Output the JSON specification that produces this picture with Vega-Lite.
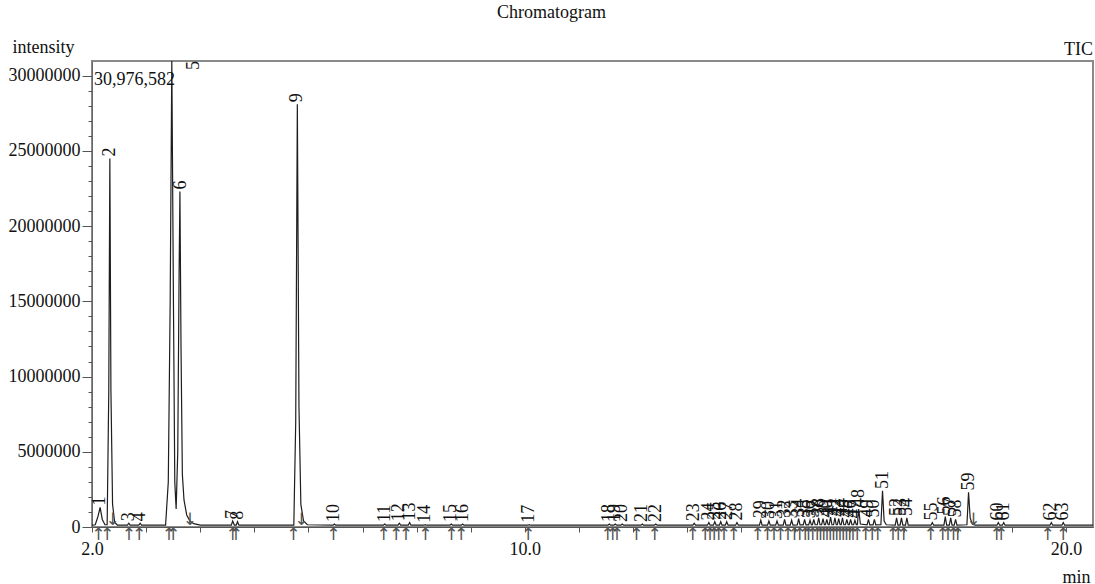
{
  "$schema": "https://vega.github.io/schema/vega-lite/v6.json",
  "width": 1001,
  "height": 466,
  "autosize": {"type": "none"},
  "padding": {"left": 92, "top": 61, "right": 2, "bottom": 57},
  "background": "white",
  "config": {
    "view": {"stroke": "#8a8a8a", "strokeWidth": 2},
    "text": {"font": "Liberation Serif", "fontSize": 18, "color": "#111"}
  },
  "title": {
    "text": "Chromatogram",
    "font": "Liberation Serif",
    "fontSize": 18,
    "fontWeight": "normal",
    "color": "#111",
    "frame": "group",
    "anchor": "middle",
    "dx": -41,
    "baseline": "alphabetic",
    "offset": 2
  },
  "datasets": {
    "trace": [
      {"t": 2.00, "i": 120000},
      {"t": 2.06, "i": 150000}, {"t": 2.11, "i": 700000}, {"t": 2.15, "i": 1300000}, {"t": 2.19, "i": 500000}, {"t": 2.24, "i": 150000},
      {"t": 2.28, "i": 150000}, {"t": 2.31, "i": 9000000}, {"t": 2.33, "i": 24500000}, {"t": 2.35, "i": 9000000}, {"t": 2.38, "i": 1500000}, {"t": 2.42, "i": 300000}, {"t": 2.47, "i": 130000},
      {"t": 2.655, "i": 120000}, {"t": 2.68, "i": 250000}, {"t": 2.705, "i": 120000},
      {"t": 2.865, "i": 120000}, {"t": 2.89, "i": 250000}, {"t": 2.915, "i": 120000},
      {"t": 3.36, "i": 130000}, {"t": 3.41, "i": 3000000}, {"t": 3.445, "i": 15000000}, {"t": 3.475, "i": 30976582}, {"t": 3.505, "i": 15000000}, {"t": 3.53, "i": 3000000}, {"t": 3.555, "i": 1200000}, {"t": 3.585, "i": 5000000}, {"t": 3.61, "i": 17000000}, {"t": 3.625, "i": 22300000}, {"t": 3.645, "i": 12000000}, {"t": 3.67, "i": 3500000}, {"t": 3.70, "i": 1800000}, {"t": 3.75, "i": 800000}, {"t": 3.81, "i": 400000}, {"t": 3.88, "i": 220000}, {"t": 4.00, "i": 130000},
      {"t": 4.575, "i": 120000}, {"t": 4.60, "i": 400000}, {"t": 4.63, "i": 130000},
      {"t": 4.665, "i": 130000}, {"t": 4.69, "i": 350000}, {"t": 4.715, "i": 120000},
      {"t": 5.73, "i": 130000}, {"t": 5.765, "i": 7000000}, {"t": 5.795, "i": 28100000}, {"t": 5.825, "i": 8000000}, {"t": 5.86, "i": 1500000}, {"t": 5.91, "i": 400000}, {"t": 5.98, "i": 150000},
      {"t": 6.455, "i": 120000}, {"t": 6.48, "i": 200000}, {"t": 6.505, "i": 120000},
      {"t": 7.385, "i": 120000}, {"t": 7.41, "i": 200000}, {"t": 7.435, "i": 120000},
      {"t": 7.655, "i": 120000}, {"t": 7.68, "i": 250000}, {"t": 7.705, "i": 120000},
      {"t": 7.845, "i": 120000}, {"t": 7.87, "i": 300000}, {"t": 7.895, "i": 120000},
      {"t": 8.135, "i": 120000}, {"t": 8.16, "i": 150000}, {"t": 8.185, "i": 120000},
      {"t": 8.615, "i": 120000}, {"t": 8.64, "i": 200000}, {"t": 8.665, "i": 120000},
      {"t": 8.825, "i": 120000}, {"t": 8.85, "i": 200000}, {"t": 8.875, "i": 120000},
      {"t": 10.055, "i": 120000}, {"t": 10.08, "i": 150000}, {"t": 10.105, "i": 120000},
      {"t": 11.535, "i": 120000}, {"t": 11.56, "i": 200000}, {"t": 11.585, "i": 120000},
      {"t": 11.645, "i": 120000}, {"t": 11.67, "i": 200000}, {"t": 11.695, "i": 120000},
      {"t": 11.775, "i": 120000}, {"t": 11.80, "i": 200000}, {"t": 11.825, "i": 120000},
      {"t": 12.145, "i": 120000}, {"t": 12.17, "i": 200000}, {"t": 12.195, "i": 120000},
      {"t": 12.395, "i": 120000}, {"t": 12.42, "i": 200000}, {"t": 12.445, "i": 120000},
      {"t": 13.105, "i": 120000}, {"t": 13.13, "i": 250000}, {"t": 13.155, "i": 120000},
      {"t": 13.375, "i": 120000}, {"t": 13.40, "i": 300000}, {"t": 13.425, "i": 120000},
      {"t": 13.485, "i": 120000}, {"t": 13.51, "i": 350000}, {"t": 13.535, "i": 120000},
      {"t": 13.595, "i": 120000}, {"t": 13.62, "i": 350000}, {"t": 13.645, "i": 120000},
      {"t": 13.705, "i": 120000}, {"t": 13.73, "i": 350000}, {"t": 13.755, "i": 120000},
      {"t": 13.895, "i": 120000}, {"t": 13.92, "i": 300000}, {"t": 13.945, "i": 120000},
      {"t": 14.335, "i": 120000}, {"t": 14.36, "i": 450000}, {"t": 14.385, "i": 120000},
      {"t": 14.485, "i": 120000}, {"t": 14.51, "i": 400000}, {"t": 14.535, "i": 120000},
      {"t": 14.635, "i": 120000}, {"t": 14.66, "i": 400000}, {"t": 14.685, "i": 120000},
      {"t": 14.775, "i": 130000}, {"t": 14.80, "i": 500000}, {"t": 14.825, "i": 130000},
      {"t": 14.905, "i": 130000}, {"t": 14.93, "i": 450000}, {"t": 14.955, "i": 130000},
      {"t": 15.035, "i": 140000}, {"t": 15.06, "i": 550000}, {"t": 15.085, "i": 140000},
      {"t": 15.145, "i": 140000}, {"t": 15.17, "i": 500000}, {"t": 15.195, "i": 140000},
      {"t": 15.245, "i": 140000}, {"t": 15.27, "i": 450000}, {"t": 15.295, "i": 140000},
      {"t": 15.315, "i": 150000}, {"t": 15.34, "i": 500000}, {"t": 15.365, "i": 150000},
      {"t": 15.405, "i": 150000}, {"t": 15.43, "i": 600000}, {"t": 15.455, "i": 150000},
      {"t": 15.485, "i": 150000}, {"t": 15.51, "i": 550000}, {"t": 15.535, "i": 150000},
      {"t": 15.555, "i": 150000}, {"t": 15.58, "i": 500000}, {"t": 15.605, "i": 150000},
      {"t": 15.625, "i": 150000}, {"t": 15.65, "i": 650000}, {"t": 15.675, "i": 150000},
      {"t": 15.705, "i": 150000}, {"t": 15.73, "i": 600000}, {"t": 15.755, "i": 150000},
      {"t": 15.775, "i": 150000}, {"t": 15.80, "i": 550000}, {"t": 15.825, "i": 150000},
      {"t": 15.845, "i": 150000}, {"t": 15.87, "i": 600000}, {"t": 15.895, "i": 150000},
      {"t": 15.925, "i": 150000}, {"t": 15.95, "i": 500000}, {"t": 15.975, "i": 150000},
      {"t": 15.995, "i": 150000}, {"t": 16.02, "i": 500000}, {"t": 16.045, "i": 150000},
      {"t": 16.075, "i": 150000}, {"t": 16.10, "i": 450000}, {"t": 16.125, "i": 150000},
      {"t": 16.145, "i": 150000}, {"t": 16.17, "i": 1200000}, {"t": 16.20, "i": 200000},
      {"t": 16.325, "i": 140000}, {"t": 16.35, "i": 500000}, {"t": 16.375, "i": 140000},
      {"t": 16.435, "i": 140000}, {"t": 16.46, "i": 500000}, {"t": 16.485, "i": 140000},
      {"t": 16.58, "i": 150000}, {"t": 16.61, "i": 2400000}, {"t": 16.64, "i": 400000}, {"t": 16.68, "i": 150000},
      {"t": 16.845, "i": 130000}, {"t": 16.87, "i": 600000}, {"t": 16.895, "i": 130000},
      {"t": 16.935, "i": 130000}, {"t": 16.96, "i": 600000}, {"t": 16.985, "i": 130000},
      {"t": 17.035, "i": 130000}, {"t": 17.06, "i": 600000}, {"t": 17.085, "i": 130000},
      {"t": 17.505, "i": 120000}, {"t": 17.53, "i": 300000}, {"t": 17.555, "i": 120000},
      {"t": 17.745, "i": 130000}, {"t": 17.77, "i": 700000}, {"t": 17.795, "i": 130000},
      {"t": 17.845, "i": 130000}, {"t": 17.87, "i": 600000}, {"t": 17.895, "i": 130000},
      {"t": 17.935, "i": 130000}, {"t": 17.96, "i": 500000}, {"t": 17.985, "i": 130000},
      {"t": 18.17, "i": 150000}, {"t": 18.20, "i": 2300000}, {"t": 18.23, "i": 600000}, {"t": 18.27, "i": 200000}, {"t": 18.32, "i": 130000},
      {"t": 18.725, "i": 120000}, {"t": 18.75, "i": 300000}, {"t": 18.775, "i": 120000},
      {"t": 18.825, "i": 120000}, {"t": 18.85, "i": 300000}, {"t": 18.875, "i": 120000},
      {"t": 19.705, "i": 120000}, {"t": 19.73, "i": 300000}, {"t": 19.755, "i": 120000},
      {"t": 19.925, "i": 120000}, {"t": 19.95, "i": 300000}, {"t": 19.975, "i": 120000},
      {"t": 20.50, "i": 120000}
    ],
    "peaks": [
      {"n": "1", "t": 2.15, "h": 1300000},
      {"n": "2", "t": 2.33, "h": 24500000},
      {"n": "3", "t": 2.68, "h": 250000},
      {"n": "4", "t": 2.89, "h": 250000},
      {"n": "5", "t": 3.88, "h": 30250000},
      {"n": "6", "t": 3.64, "h": 22300000},
      {"n": "7", "t": 4.60, "h": 400000},
      {"n": "8", "t": 4.69, "h": 350000},
      {"n": "9", "t": 5.795, "h": 28100000},
      {"n": "10", "t": 6.48, "h": 200000},
      {"n": "11", "t": 7.41, "h": 200000},
      {"n": "12", "t": 7.68, "h": 250000},
      {"n": "13", "t": 7.87, "h": 300000},
      {"n": "14", "t": 8.16, "h": 150000},
      {"n": "15", "t": 8.64, "h": 200000},
      {"n": "16", "t": 8.85, "h": 200000},
      {"n": "17", "t": 10.08, "h": 150000},
      {"n": "18", "t": 11.56, "h": 200000},
      {"n": "19", "t": 11.67, "h": 200000},
      {"n": "20", "t": 11.80, "h": 200000},
      {"n": "21", "t": 12.17, "h": 200000},
      {"n": "22", "t": 12.42, "h": 200000},
      {"n": "23", "t": 13.13, "h": 250000},
      {"n": "24", "t": 13.40, "h": 300000},
      {"n": "25", "t": 13.51, "h": 350000},
      {"n": "26", "t": 13.62, "h": 350000},
      {"n": "27", "t": 13.73, "h": 350000},
      {"n": "28", "t": 13.92, "h": 300000},
      {"n": "29", "t": 14.36, "h": 450000},
      {"n": "30", "t": 14.51, "h": 400000},
      {"n": "31", "t": 14.66, "h": 400000},
      {"n": "32", "t": 14.80, "h": 500000},
      {"n": "33", "t": 14.93, "h": 450000},
      {"n": "34", "t": 15.06, "h": 550000},
      {"n": "35", "t": 15.17, "h": 500000},
      {"n": "36", "t": 15.27, "h": 450000},
      {"n": "37", "t": 15.34, "h": 500000},
      {"n": "38", "t": 15.43, "h": 600000},
      {"n": "39", "t": 15.51, "h": 550000},
      {"n": "40", "t": 15.58, "h": 500000},
      {"n": "41", "t": 15.65, "h": 650000},
      {"n": "42", "t": 15.73, "h": 600000},
      {"n": "43", "t": 15.80, "h": 550000},
      {"n": "44", "t": 15.87, "h": 600000},
      {"n": "45", "t": 15.95, "h": 500000},
      {"n": "46", "t": 16.02, "h": 500000},
      {"n": "47", "t": 16.10, "h": 450000},
      {"n": "48", "t": 16.17, "h": 1200000},
      {"n": "49", "t": 16.35, "h": 500000},
      {"n": "50", "t": 16.46, "h": 500000},
      {"n": "51", "t": 16.61, "h": 2400000},
      {"n": "52", "t": 16.87, "h": 600000},
      {"n": "53", "t": 16.96, "h": 600000},
      {"n": "54", "t": 17.06, "h": 600000},
      {"n": "55", "t": 17.53, "h": 300000},
      {"n": "56", "t": 17.77, "h": 700000},
      {"n": "57", "t": 17.87, "h": 600000},
      {"n": "58", "t": 17.96, "h": 500000},
      {"n": "59", "t": 18.20, "h": 2300000},
      {"n": "60", "t": 18.75, "h": 300000},
      {"n": "61", "t": 18.85, "h": 300000},
      {"n": "62", "t": 19.73, "h": 300000},
      {"n": "63", "t": 19.95, "h": 300000}
    ],
    "starts": [
      {"t": 2.12}, {"t": 2.28}, {"t": 2.68}, {"t": 2.87}, {"t": 3.42}, {"t": 3.50}, {"t": 4.60}, {"t": 4.66}, {"t": 5.72}, {"t": 6.46},
      {"t": 7.39}, {"t": 7.62}, {"t": 7.80}, {"t": 8.16}, {"t": 8.64}, {"t": 8.82}, {"t": 10.06}, {"t": 11.53}, {"t": 11.62}, {"t": 11.70},
      {"t": 12.06}, {"t": 12.40}, {"t": 13.10}, {"t": 13.33}, {"t": 13.42}, {"t": 13.50}, {"t": 13.58}, {"t": 13.68}, {"t": 13.86}, {"t": 14.30},
      {"t": 14.48}, {"t": 14.60}, {"t": 14.72}, {"t": 14.86}, {"t": 14.98}, {"t": 15.08}, {"t": 15.18}, {"t": 15.24}, {"t": 15.32}, {"t": 15.40},
      {"t": 15.46}, {"t": 15.52}, {"t": 15.58}, {"t": 15.64}, {"t": 15.70}, {"t": 15.76}, {"t": 15.82}, {"t": 15.88}, {"t": 15.94}, {"t": 16.00},
      {"t": 16.06}, {"t": 16.14}, {"t": 16.30}, {"t": 16.42}, {"t": 16.52}, {"t": 16.80}, {"t": 16.90}, {"t": 17.00}, {"t": 17.50}, {"t": 17.72},
      {"t": 17.82}, {"t": 17.92}, {"t": 18.00}, {"t": 18.72}, {"t": 18.80}, {"t": 19.66}, {"t": 19.95}
    ],
    "ends": [
      {"t": 2.38}, {"t": 3.81}, {"t": 5.87}, {"t": 18.29}
    ]
  },
  "layer": [
    {
      "data": {"name": "trace"},
      "mark": {"type": "line", "color": "#1e1e1e", "strokeWidth": 1.2, "clip": true},
      "encoding": {
        "x": {
          "field": "t",
          "type": "quantitative",
          "scale": {"domain": [2.0, 20.5], "nice": false, "zero": false},
          "axis": {
            "title": "min",
            "values": [2, 3, 4, 5, 6, 7, 8, 9, 10, 11, 12, 13, 14, 15, 16, 17, 18, 19, 20],
            "tickCount": 200,
            "labelExpr": "datum.value == 2 || datum.value == 10 || datum.value == 20 ? format(datum.value, '.1f') : ''",
            "labelOverlap": false,
            "labelFlush": false,
            "grid": false,
            "tickSize": 5,
            "labelPadding": 8,
            "labelFont": "Liberation Serif",
            "labelFontSize": 18,
            "labelColor": "#111",
            "domainColor": "#555",
            "tickColor": "#555",
            "titleFont": "Liberation Serif",
            "titleFontSize": 18,
            "titleFontWeight": "normal",
            "titleColor": "#111",
            "titleX": 998,
            "titleY": 55,
            "titleAlign": "right",
            "titleBaseline": "alphabetic"
          }
        },
        "y": {
          "field": "i",
          "type": "quantitative",
          "scale": {"domain": [0, 30976582], "nice": false, "zero": true},
          "axis": {
            "title": "intensity",
            "values": [0, 1000000, 2000000, 3000000, 4000000, 5000000, 6000000, 7000000, 8000000, 9000000, 10000000, 11000000, 12000000, 13000000, 14000000, 15000000, 16000000, 17000000, 18000000, 19000000, 20000000, 21000000, 22000000, 23000000, 24000000, 25000000, 26000000, 27000000, 28000000, 29000000, 30000000],
            "tickCount": 200,
            "labelExpr": "datum.value % 5000000 == 0 ? format(datum.value, 'd') : ''",
            "labelOverlap": false,
            "labelFlush": false,
            "grid": false,
            "tickSize": {"condition": {"test": "datum.value % 5000000 == 0", "value": 10}, "value": 4},
            "labelPadding": 2,
            "labelFont": "Liberation Serif",
            "labelFontSize": 18,
            "labelColor": "#111",
            "domainColor": "#666",
            "tickColor": "#555",
            "titleFont": "Liberation Serif",
            "titleFontSize": 18,
            "titleFontWeight": "normal",
            "titleColor": "#111",
            "titleAngle": 0,
            "titleX": -80,
            "titleY": -9,
            "titleAlign": "left",
            "titleBaseline": "alphabetic"
          }
        }
      }
    },
    {
      "data": {"name": "peaks"},
      "mark": {"type": "text", "angle": 270, "align": "left", "baseline": "middle", "dx": 2, "fontSize": 18, "font": "Liberation Serif", "color": "#111"},
      "encoding": {
        "x": {"field": "t", "type": "quantitative"},
        "y": {"field": "h", "type": "quantitative"},
        "text": {"field": "n"}
      }
    },
    {
      "data": {"name": "starts"},
      "mark": {"type": "text", "baseline": "top", "align": "center", "dy": 0, "fontSize": 17, "font": "DejaVu Sans", "color": "#555"},
      "encoding": {
        "x": {"field": "t", "type": "quantitative"},
        "y": {"datum": 0, "type": "quantitative"},
        "text": {"value": "↑"}
      }
    },
    {
      "data": {"name": "ends"},
      "mark": {"type": "text", "baseline": "bottom", "align": "center", "dy": 2, "fontSize": 17, "font": "DejaVu Sans", "color": "#555"},
      "encoding": {
        "x": {"field": "t", "type": "quantitative"},
        "y": {"datum": 0, "type": "quantitative"},
        "text": {"value": "↓"}
      }
    },
    {
      "data": {"values": [{"label": "30,976,582"}]},
      "mark": {"type": "text", "align": "left", "baseline": "top", "dx": 2, "dy": 10, "fontSize": 18, "font": "Liberation Serif", "color": "#111"},
      "encoding": {
        "x": {"datum": 2.0, "type": "quantitative"},
        "y": {"datum": 30976582, "type": "quantitative"},
        "text": {"field": "label"}
      }
    },
    {
      "data": {"values": [{"label": "TIC"}]},
      "mark": {"type": "text", "align": "right", "baseline": "alphabetic", "dx": 0, "dy": -6, "fontSize": 18, "font": "Liberation Serif", "color": "#111"},
      "encoding": {
        "x": {"datum": 20.5, "type": "quantitative"},
        "y": {"datum": 30976582, "type": "quantitative"},
        "text": {"field": "label"}
      }
    }
  ]
}
